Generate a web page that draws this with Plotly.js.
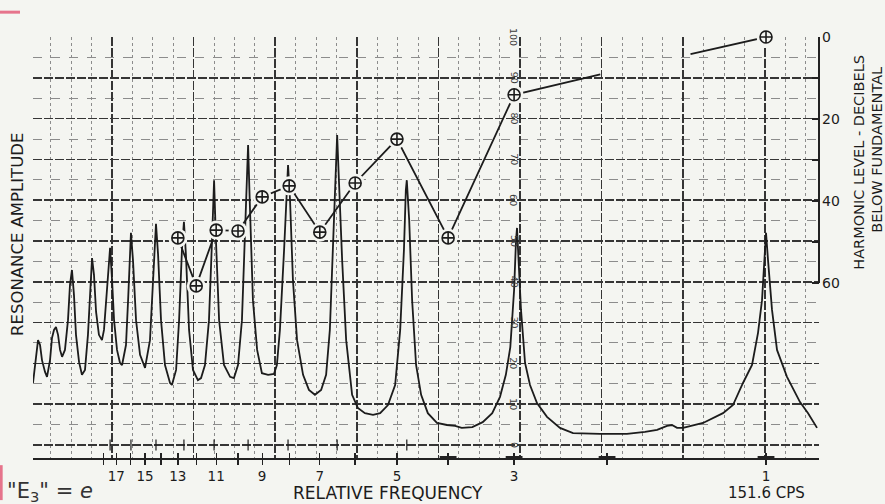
<!DOCTYPE html>
<html>
<head>
<meta charset="utf-8">
<script src="https://cdn.plot.ly/plotly-3.0.1.min.js"></script>
<style>html,body{margin:0;padding:0;background:#f4f5f1;}#chart{width:885px;height:504px;}</style>
</head>
<body>
<div id="chart"></div>
<script>
// Resonance curve: relative frequency vs resonance amplitude (0-100 scale)
const curveFreq = [24.45,24.13,23.92,23.71,23.51,23.20,23.00,22.70,22.51,22.31,22.12,21.92,21.73,21.54,21.27,20.99,20.81,20.63,20.45,20.27,20.00,19.75,19.49,19.24,19.07,18.90,18.74,18.57,18.34,18.10,17.94,17.78,17.62,17.47,17.32,17.17,16.95,16.73,16.58,16.30,16.15,16.01,15.95,15.81,15.60,15.33,15.00,14.68,14.49,14.36,14.30,14.17,13.99,13.75,13.45,13.34,13.10,12.93,12.77,12.66,12.55,12.38,12.17,11.91,11.75,11.55,11.35,11.20,11.10,11.01,10.86,10.63,10.35,10.18,10.00,9.83,9.70,9.62,9.57,9.49,9.37,9.20,9.01,8.77,8.55,8.44,8.33,8.18,8.08,8.04,7.97,7.87,7.73,7.53,7.34,7.15,6.96,6.81,6.70,6.61,6.55,6.49,6.44,6.35,6.24,6.08,5.93,5.75,5.55,5.38,5.20,5.04,4.93,4.85,4.81,4.79,4.74,4.68,4.60,4.50,4.37,4.20,4.02,3.88,3.77,3.60,3.44,3.30,3.19,3.11,3.05,3.00,2.975,2.962,2.936,2.911,2.860,2.799,2.715,2.599,2.456,2.320,2.063,1.834,1.695,1.608,1.540,1.507,1.474,1.436,1.316,1.2064,1.1548,1.1057,1.0629,1.0355,1.0176,1.0044,1.0,0.9913,0.9742,0.9532,0.9126,0.8622,0.8325,0.8005];
const curveAmp = [15.2,20.8,25.7,24.5,20.8,17.9,16.7,20.8,26.2,28.2,28.9,27.0,23.3,21.6,23.3,30.6,39.2,42.9,36.8,27.0,20.3,17.2,18.4,27.0,38.0,45.8,41.7,32.6,27.0,25.7,28.2,35.5,42.9,48.3,40.4,30.6,23.3,20.1,19.6,24.5,35.5,47.8,52.0,45.3,30.6,22.1,18.9,25.7,40.4,51.5,54.2,46.6,30.6,19.6,15.2,14.7,18.4,30.6,47.8,54.7,46.6,28.2,18.4,15.9,16.4,19.6,30.6,50.2,64.9,50.2,30.6,19.6,16.7,16.4,19.6,30.6,50.2,62.5,73.5,57.6,35.5,23.3,17.6,17.2,17.4,19.6,28.2,47.8,62.5,68.6,60.0,40.4,25.7,17.2,13.5,12.3,13.5,17.2,28.2,47.8,62.5,76.0,64.9,45.3,25.7,12.3,9.1,7.8,7.4,7.8,9.8,14.7,28.2,47.8,62.5,64.9,55.1,35.5,19.6,12.3,7.8,5.4,4.9,4.7,4.2,4.4,5.6,7.8,11.8,17.2,24.0,38.0,50.2,53.2,42.9,33.1,20.1,14.7,10.3,6.9,4.2,2.9,2.7,2.7,3.2,3.7,4.7,4.9,4.2,4.2,5.4,7.8,9.8,15.2,19.6,27.5,35.5,50.2,52.0,45.3,33.1,23.3,16.7,10.5,7.8,4.2];

// Harmonic levels, dB below fundamental
const harmonics = [13,12,11,10,9,8,7,6,5,4,3,1];
const levelDb   = [49,60.7,47.1,47.3,39,36.3,47.6,35.6,24.9,49,14.1,0];
// broken guide line between the 3rd harmonic and the fundamental
const guideFreq = [2.06,null,1.39];
const guideDb   = [9.1,null,4.2];

// resonance peak markers on the base line, heavy marks on the frequency axis
const peakFreq = [17.47,15.95,14.30,12.66,11.10,9.57,8.04,6.49,4.79];
const heavyMarks = [4,3,2,1];

// axis ticks
const xTickVals = [1,2,3,4,5,6,7,8,9,10,11,12,13,14,15,16,17,18];
const xTickText = ['1',' ','3',' ','5',' ','7',' ','9',' ','11',' ','13',' ','15',' ','17',' '];
const dbTickVals = [0,10,20,30,40,50,60];
const dbTickText = ['0',' ','20',' ','40',' ','60'];
const ampScale = [100,90,80,70,60,50,40,30,20,10,0];

const BG = '#f4f5f1';
const INK = '#1c1c1c';
const FONT = 'DejaVu Sans, Liberation Sans, sans-serif';

const lineX = harmonics.slice(0, 11).concat(guideFreq).concat([1]);
const lineY = levelDb.slice(0, 11).concat(guideDb).concat([0]);

const traces = [
  {x:[0], y:[null], xaxis:'x2', yaxis:'y', type:'scatter', mode:'markers', showlegend:false, hoverinfo:'skip'},
  {x:[1], y:[null], xaxis:'x3', yaxis:'y', type:'scatter', mode:'markers', showlegend:false, hoverinfo:'skip'},
  {x:lineX, y:lineY, xaxis:'x', yaxis:'y2', type:'scatter', mode:'lines', line:{color:INK, width:1.8}, showlegend:false, cliponaxis:false, connectgaps:false},
  {x:harmonics, y:levelDb, xaxis:'x', yaxis:'y2', type:'scatter', mode:'markers', marker:{symbol:'circle', size:19, color:BG, line:{width:0}}, showlegend:false, cliponaxis:false},
  {x:harmonics, y:levelDb, xaxis:'x', yaxis:'y2', type:'scatter', mode:'markers', marker:{symbol:'circle-cross', size:12, color:BG, line:{color:INK, width:1.6}}, showlegend:false, cliponaxis:false},
  {x:curveFreq, y:curveAmp, xaxis:'x', yaxis:'y', type:'scatter', mode:'lines', line:{color:INK, width:1.8}, showlegend:false},
  {x:peakFreq, y:peakFreq.map(() => 0), xaxis:'x', yaxis:'y', type:'scatter', mode:'markers', marker:{symbol:'line-ns', size:8, line:{color:INK, width:1.2}}, showlegend:false, cliponaxis:false},
  {x:heavyMarks, y:heavyMarks.map(() => -3.19), xaxis:'x', yaxis:'y', type:'scatter', mode:'markers', marker:{symbol:'line-ew', size:12, line:{color:'#222', width:4}}, showlegend:false, cliponaxis:false}
];

const annotations = [
  {text:'RESONANCE AMPLITUDE', xref:'paper', yref:'paper', x:-0.019, y:0.53, textangle:-90, showarrow:false, xanchor:'center', yanchor:'middle', font:{family:FONT, size:16.5, color:INK}},
  {text:'RELATIVE FREQUENCY', xref:'paper', yref:'paper', x:0.4517, y:-0.083, showarrow:false, xanchor:'center', yanchor:'middle', font:{family:FONT, size:17, color:INK}},
  {text:'151.6 CPS', xref:'x', yref:'paper', x:0, y:-0.083, showarrow:false, xanchor:'center', yanchor:'middle', font:{family:FONT, size:15, color:INK}},
  {text:'HARMONIC LEVEL - DECIBELS', xref:'paper', yref:'paper', x:1.0505, y:0.703, textangle:-90, showarrow:false, xanchor:'center', yanchor:'middle', font:{family:FONT, size:14.5, color:INK}},
  {text:'BELOW FUNDAMENTAL', xref:'paper', yref:'paper', x:1.0735, y:0.7316, textangle:-90, showarrow:false, xanchor:'center', yanchor:'middle', font:{family:FONT, size:14.5, color:INK}},
  {text:'"E<sub>3</sub>" = <i>e</i>', xref:'paper', yref:'paper', x:-0.036, y:-0.08, showarrow:false, xanchor:'left', yanchor:'middle', font:{family:FONT, size:21, color:'#333'}}
];
ampScale.forEach(v => annotations.push({text:String(v), xref:'x', yref:'y', x:Math.log10(3.0), y:v, textangle:90, showarrow:false, xanchor:'center', yanchor:'middle', font:{family:FONT, size:9.5, color:'#3a3a3a'}}));

const layout = {
  width:885, height:504,
  margin:{l:33, r:66, t:37, b:46},
  paper_bgcolor:BG, plot_bgcolor:BG,
  showlegend:false,
  xaxis:{type:'log', range:[Math.log10(24.45), Math.log10(0.7937)], showgrid:false, zeroline:false,
         showline:true, linecolor:'#222', linewidth:1.5, ticks:'outside', ticklen:5, tickwidth:1.3, tickcolor:'#222',
         tickmode:'array', tickvals:xTickVals, ticktext:xTickText, tickfont:{family:FONT, size:13.5, color:INK}},
  xaxis3:{type:'log', overlaying:'x', anchor:'y', side:'bottom', range:[Math.log10(24.45), Math.log10(0.7937)], showgrid:false, zeroline:false,
          ticks:'inside', ticklen:5, tickwidth:1.3, tickcolor:'#222', tickmode:'array', tickvals:xTickVals, showticklabels:false},
  xaxis2:{type:'linear', overlaying:'x', anchor:'y', side:'top', range:[-79, 707], tick0:0, dtick:81.6,
          showgrid:true, gridcolor:'#353535', gridwidth:1.5, griddash:'9px,2px', zeroline:false, showticklabels:false, ticks:'',
          minor:{tick0:0, dtick:20.4, showgrid:true, gridcolor:'#8c8c8c', gridwidth:1, griddash:'dot'}},
  yaxis:{range:[-3.19, 100], tick0:0, dtick:10, showgrid:true, gridcolor:'#353535', gridwidth:1.5, griddash:'9px,2px',
         zeroline:false, showticklabels:false, ticks:'', showline:false,
         minor:{tick0:0, dtick:5, showgrid:true, gridcolor:'#8c8c8c', gridwidth:1, griddash:'dash'}},
  yaxis2:{overlaying:'y', side:'right', range:[102.68, 0], showgrid:false, zeroline:false, showline:false,
          tickmode:'array', tickvals:dbTickVals, ticktext:dbTickText, ticks:'inside', ticklen:7, tickwidth:2, tickcolor:'#222',
          ticklabelstandoff:2, tickfont:{family:FONT, size:14, color:INK}},
  shapes:[
    {type:'rect', xref:'paper', yref:'y', x0:0, x1:1, y0:-3.19, y1:-0.35, fillcolor:BG, line:{width:0}, layer:'between'},
    {type:'line', xref:'paper', yref:'y2', x0:1, x1:1, y0:0, y1:60, line:{color:'#222', width:2}},
    {type:'line', xref:'paper', yref:'paper', x0:-0.042, x1:-0.0165, y0:1.059, y1:1.059, line:{color:'#e6748c', width:3}},
    {type:'line', xref:'paper', yref:'paper', x0:-0.0405, x1:-0.0405, y0:-0.017, y1:-0.10, line:{color:'#e6748c', width:3}}
  ],
  annotations:annotations
};

Plotly.newPlot('chart', traces, layout, {staticPlot:true, displayModeBar:false});
</script>
</body>
</html>
